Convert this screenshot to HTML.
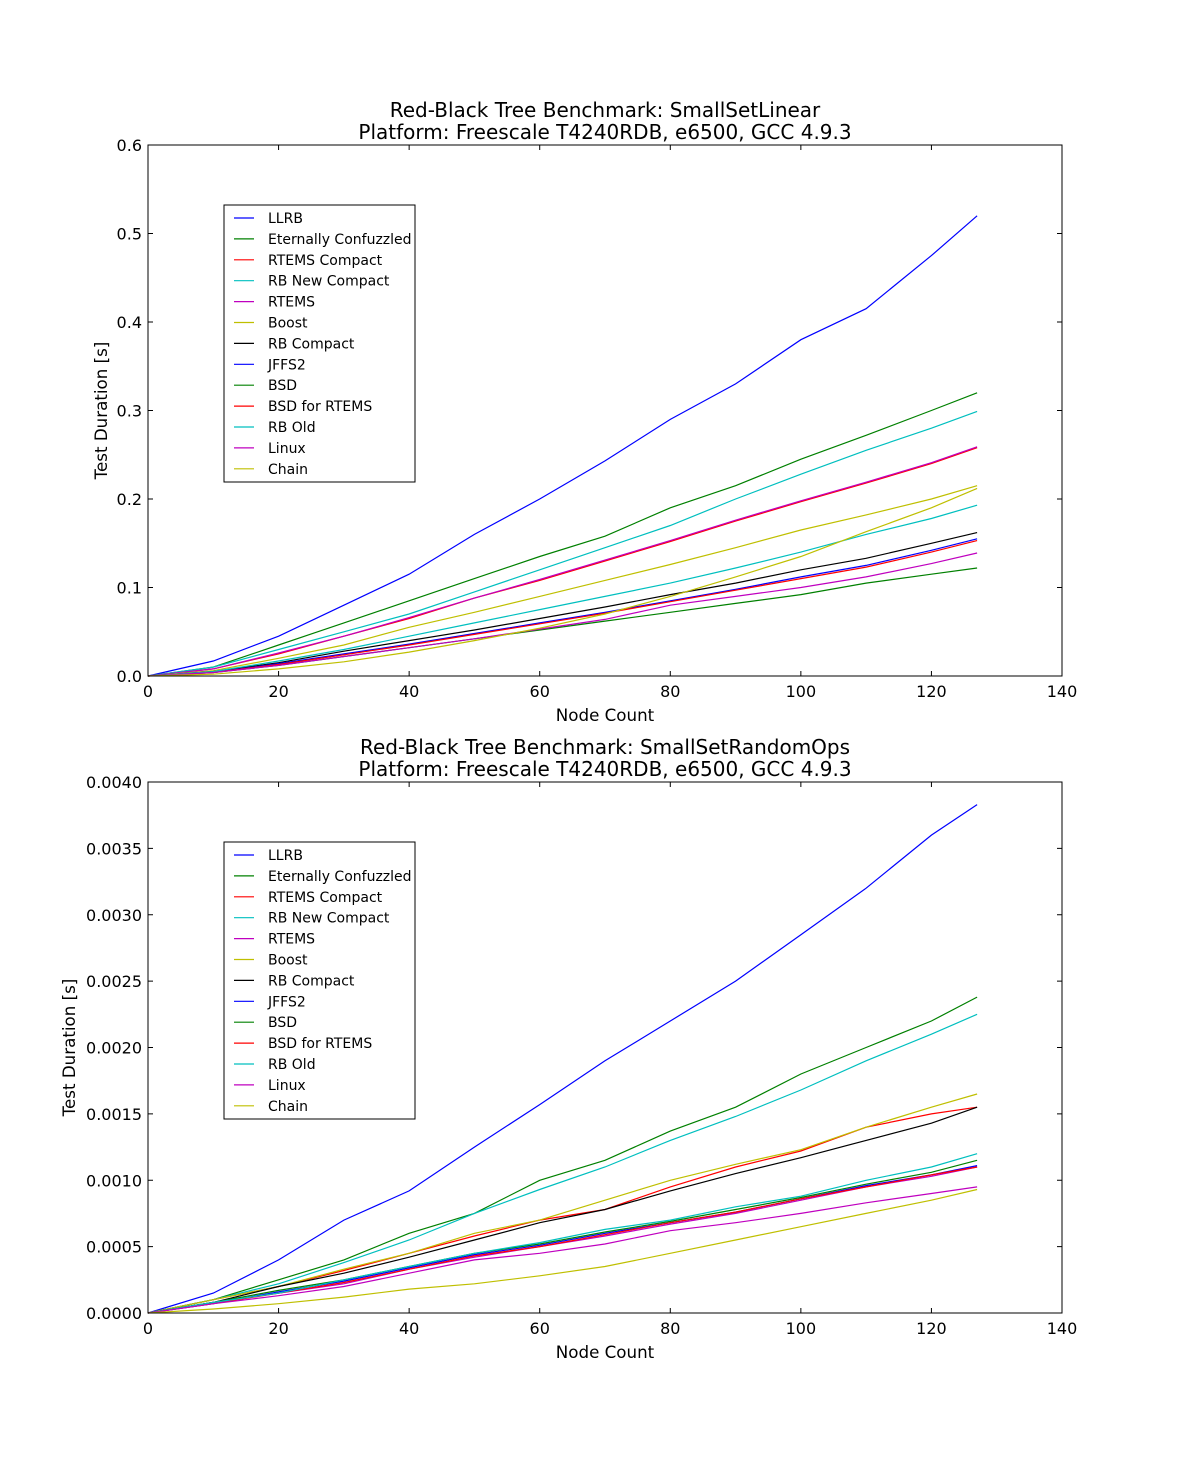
<!DOCTYPE html>
<html><head><meta charset="utf-8">
<style>
html,body{margin:0;padding:0;background:#fff;}
svg text{font-family:"DejaVu Sans","Liberation Sans",sans-serif;fill:#000;}
</style></head>
<body>
<svg id="chart" width="1181" height="1459" viewBox="0 0 1181 1459" xmlns="http://www.w3.org/2000/svg">
<rect width="1181" height="1459" fill="#fff"/>
</svg>
<script>
// shared node-count sample points
const nodeCounts = [0,10,20,30,40,50,60,70,80,90,100,110,120,127];
const seriesNames = ["LLRB","Eternally Confuzzled","RTEMS Compact","RB New Compact","RTEMS","Boost","RB Compact","JFFS2","BSD","BSD for RTEMS","RB Old","Linux","Chain"];
const seriesColors = ["#0000ff","#008000","#ff0000","#00bfbf","#bf00bf","#bfbf00","#000000","#0000ff","#008000","#ff0000","#00bfbf","#bf00bf","#bfbf00"];
const xTicks = [0,20,40,60,80,100,120,140];

// Plot 1: SmallSetLinear
const linLLRB   = [0,0.017,0.045,0.080,0.115,0.160,0.200,0.243,0.290,0.330,0.380,0.415,0.475,0.520];
const linEC     = [0,0.010,0.035,0.060,0.085,0.110,0.135,0.158,0.190,0.215,0.245,0.272,0.300,0.320];
const linRTC    = [0,0.008,0.025,0.045,0.065,0.088,0.108,0.130,0.152,0.175,0.197,0.218,0.240,0.258];
const linRBNC   = [0,0.010,0.030,0.050,0.070,0.095,0.120,0.145,0.170,0.200,0.228,0.255,0.280,0.299];
const linRTEMS  = [0,0.008,0.026,0.045,0.066,0.088,0.109,0.131,0.153,0.176,0.198,0.219,0.241,0.259];
const linBoost  = [0,0.006,0.020,0.035,0.055,0.072,0.090,0.108,0.126,0.145,0.165,0.182,0.200,0.215];
const linRBC    = [0,0.005,0.015,0.028,0.040,0.052,0.065,0.078,0.092,0.105,0.120,0.133,0.150,0.162];
const linJFFS2  = [0,0.004,0.014,0.025,0.036,0.048,0.060,0.072,0.085,0.098,0.112,0.125,0.142,0.155];
const linBSD    = [0,0.004,0.012,0.022,0.032,0.042,0.052,0.062,0.072,0.082,0.092,0.105,0.115,0.122];
const linBSDR   = [0,0.004,0.013,0.024,0.035,0.047,0.059,0.071,0.084,0.097,0.110,0.123,0.140,0.153];
const linRBOld  = [0,0.005,0.017,0.030,0.045,0.060,0.075,0.090,0.105,0.122,0.140,0.160,0.178,0.193];
const linLinux  = [0,0.004,0.012,0.022,0.032,0.042,0.053,0.064,0.080,0.090,0.100,0.112,0.127,0.139];
const linChain  = [0,0.002,0.008,0.016,0.027,0.040,0.054,0.070,0.090,0.112,0.135,0.163,0.190,0.212];
const linYTicks = ["0.0","0.1","0.2","0.3","0.4","0.5","0.6"];

// Plot 2: SmallSetRandomOps
const rndLLRB   = [0,0.00015,0.00040,0.00070,0.00092,0.00125,0.00157,0.00190,0.00220,0.00250,0.00285,0.00320,0.00360,0.00383];
const rndEC     = [0,0.00010,0.00025,0.00040,0.00060,0.00075,0.00100,0.00115,0.00137,0.00155,0.00180,0.00200,0.00220,0.00238];
const rndRTC    = [0,0.00010,0.00020,0.00032,0.00045,0.00058,0.00070,0.00078,0.00095,0.00110,0.00122,0.00140,0.00150,0.00155];
const rndRBNC   = [0,0.00010,0.00022,0.00038,0.00055,0.00075,0.00093,0.00110,0.00130,0.00148,0.00168,0.00190,0.00210,0.00225];
const rndRTEMS  = [0,0.00008,0.00015,0.00022,0.00033,0.00042,0.00050,0.00058,0.00067,0.00075,0.00085,0.00095,0.00103,0.00110];
const rndBoost  = [0,0.00010,0.00020,0.00033,0.00045,0.00060,0.00070,0.00085,0.00100,0.00112,0.00123,0.00140,0.00155,0.00165];
const rndRBC    = [0,0.00008,0.00020,0.00030,0.00042,0.00055,0.00068,0.00078,0.00092,0.00105,0.00117,0.00130,0.00143,0.00155];
const rndJFFS2  = [0,0.00007,0.00016,0.00024,0.00034,0.00044,0.00051,0.00060,0.00068,0.00076,0.00086,0.00096,0.00104,0.00111];
const rndBSD    = [0,0.00008,0.00017,0.00025,0.00035,0.00045,0.00052,0.00061,0.00069,0.00078,0.00087,0.00097,0.00106,0.00115];
const rndBSDR   = [0,0.00007,0.00015,0.00023,0.00033,0.00043,0.00050,0.00059,0.00068,0.00076,0.00086,0.00095,0.00104,0.00110];
const rndRBOld  = [0,0.00008,0.00015,0.00025,0.00035,0.00045,0.00053,0.00063,0.00070,0.00080,0.00088,0.00100,0.00110,0.00120];
const rndLinux  = [0,0.00007,0.00013,0.00020,0.00030,0.00040,0.00045,0.00052,0.00062,0.00068,0.00075,0.00083,0.00090,0.00095];
const rndChain  = [0,0.00003,0.00007,0.00012,0.00018,0.00022,0.00028,0.00035,0.00045,0.00055,0.00065,0.00075,0.00085,0.00093];
const rndYTicks = ["0.0000","0.0005","0.0010","0.0015","0.0020","0.0025","0.0030","0.0035","0.0040"];

const linSeries = [linLLRB,linEC,linRTC,linRBNC,linRTEMS,linBoost,linRBC,linJFFS2,linBSD,linBSDR,linRBOld,linLinux,linChain];
const rndSeries = [rndLLRB,rndEC,rndRTC,rndRBNC,rndRTEMS,rndBoost,rndRBC,rndJFFS2,rndBSD,rndBSDR,rndRBOld,rndLinux,rndChain];

const NS = "http://www.w3.org/2000/svg";
const svg = document.getElementById("chart");
function mk(tag, attrs, parent, txt){
  const e = document.createElementNS(NS, tag);
  for (const k in attrs) e.setAttribute(k, attrs[k]);
  if (txt !== undefined) e.textContent = txt;
  (parent||svg).appendChild(e);
  return e;
}

function drawPlot(prefix, top, yMax, yTicks, series, title1, title2){
  const L=148, R=1062, T=top, B=top+531;
  const xs = v => L + (v/140)*(R-L);
  const ys = v => B - (v/yMax)*(B-T);
  const g = mk("g",{});
  
  

  const t1 = mk("text",{x:605,y:top-28,"text-anchor":"middle","font-size":"20"},g,title1);
  
  
  const t2 = mk("text",{x:605,y:top-6,"text-anchor":"middle","font-size":"20"},g,title2);
  
  

  series.forEach((arr,i)=>{
    const pts = arr.map((v,j)=>xs(nodeCounts[j]).toFixed(1)+","+ys(v).toFixed(1)).join(" ");
    const pl = mk("polyline",{points:pts,fill:"none",stroke:seriesColors[i],"stroke-width":"1.2"},g);
    
    
  });

  const fr = mk("rect",{x:L,y:T,width:R-L,height:B-T,fill:"none",stroke:"#000","stroke-width":"1"},g);
  
  

  xTicks.forEach(v=>{
    const x = xs(v);
    mk("line",{x1:x,y1:B,x2:x,y2:B-5,stroke:"#000"},g);
    mk("line",{x1:x,y1:T,x2:x,y2:T+5,stroke:"#000"},g);
    const tl = mk("text",{x:x,y:B+21,"text-anchor":"middle","font-size":"16"},g,String(v));
    
    
  });
  yTicks.forEach(s=>{
    const y = ys(parseFloat(s));
    mk("line",{x1:L,y1:y,x2:L+5,y2:y,stroke:"#000"},g);
    mk("line",{x1:R,y1:y,x2:R-5,y2:y,stroke:"#000"},g);
    const tl = mk("text",{x:L-6,y:y+6,"text-anchor":"end","font-size":"16"},g,s);
    
    
  });

  const xt = mk("text",{x:605,y:B+45,"text-anchor":"middle","font-size":"16.7"},g,"Node Count");
  
  
  const yx = prefix==='linear' ? 107 : 75;
  const yt = mk("text",{x:yx,y:(T+B)/2,"text-anchor":"middle","font-size":"16.7",transform:"rotate(-90 "+yx+" "+((T+B)/2)+")"},g,"Test Duration [s]");
  
  

  const lg = mk("g",{},g);
  
  
  const ly = top+60;
  mk("rect",{x:224,y:ly,width:191,height:277,fill:"#fff",stroke:"#000","stroke-width":"1"},lg);
  seriesNames.forEach((n,i)=>{
    const yy = ly+13+i*20.9;
    const en = mk("g",{},lg);
    
    
    mk("line",{x1:234,y1:yy,x2:254,y2:yy,stroke:seriesColors[i],"stroke-width":"1.2"},en);
    mk("text",{x:268,y:yy+5,"font-size":"14"},en,n);
  });
}

drawPlot("linear",145,0.6,linYTicks,linSeries,"Red-Black Tree Benchmark: SmallSetLinear","Platform: Freescale T4240RDB, e6500, GCC 4.9.3");
drawPlot("random",782,0.004,rndYTicks,rndSeries,"Red-Black Tree Benchmark: SmallSetRandomOps","Platform: Freescale T4240RDB, e6500, GCC 4.9.3");
</script>
</body></html>
